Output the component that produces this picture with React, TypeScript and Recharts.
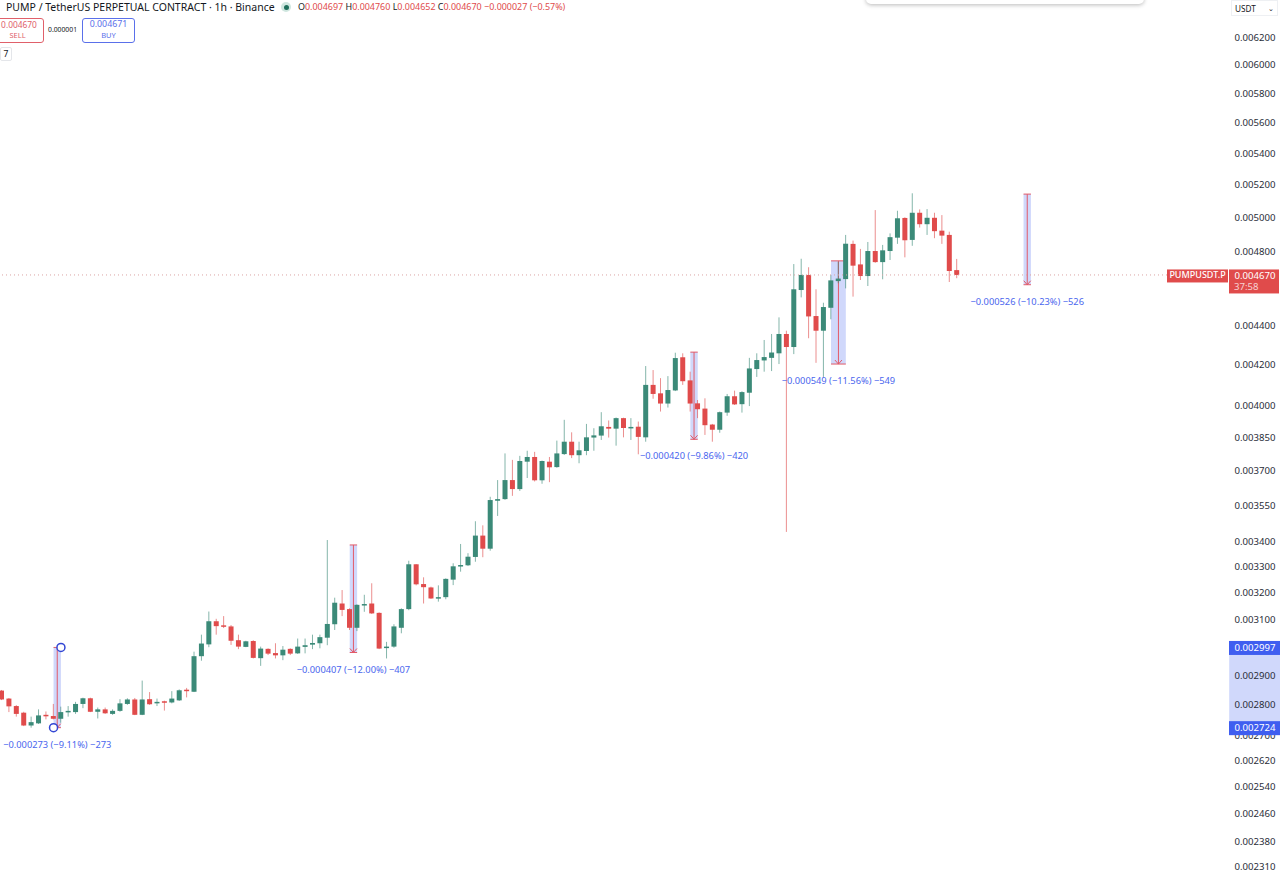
import { BarChart, Bar, XAxis, YAxis, ReferenceArea, ReferenceLine } from "recharts";

const opens = [
  0.002847, 0.00282, 0.002795, 0.002773, 0.002731, 0.002738, 0.002766, 0.002762, 0.002753, 0.002776,
  0.002775, 0.002802, 0.002821, 0.002776, 0.002784, 0.002769, 0.002779, 0.002802, 0.002817, 0.002766,
  0.002818, 0.002804, 0.002811, 0.002807, 0.002814, 0.00285, 0.002843, 0.002966, 0.003008, 0.003092,
  0.003077, 0.003073, 0.003023, 0.002999, 0.00302, 0.002959, 0.002992, 0.002977, 0.002969, 0.002992,
  0.002976, 0.002999, 0.003007, 0.003012, 0.003032, 0.003081, 0.003158, 0.003137, 0.003068, 0.003153,
  0.003158, 0.003123, 0.002998, 0.003, 0.003068, 0.003137, 0.003309, 0.003232, 0.003219, 0.003178,
  0.003182, 0.003249, 0.003301, 0.003305, 0.003338, 0.003424, 0.003371, 0.003569, 0.003576, 0.003658,
  0.003619, 0.003739, 0.00376, 0.003657, 0.003739, 0.003715, 0.003773, 0.003829, 0.003768, 0.003787,
  0.003848, 0.003857, 0.003897, 0.003889, 0.003938, 0.003894, 0.003898, 0.003849, 0.004097, 0.004056,
  0.004007, 0.00407, 0.004234, 0.004119, 0.004008, 0.003983, 0.003908, 0.003884, 0.003964, 0.004042,
  0.004004, 0.004059, 0.004175, 0.004218, 0.004231, 0.004254, 0.004353, 0.004286, 0.004587, 0.00467,
  0.004447, 0.00437, 0.004491, 0.004636, 0.004647, 0.004846, 0.004729, 0.004664, 0.004805, 0.004742,
  0.004805, 0.004882, 0.004998, 0.004869, 0.005029, 0.004961, 0.004999, 0.004923, 0.004898, 0.004697,
];
const highs = [
  0.002849, 0.002822, 0.002798, 0.002776, 0.00276, 0.002784, 0.002777, 0.002802, 0.002793, 0.002795,
  0.002809, 0.002823, 0.002823, 0.00279, 0.00279, 0.002784, 0.002818, 0.002821, 0.002822, 0.002881,
  0.002842, 0.00282, 0.002813, 0.002845, 0.002851, 0.002856, 0.002982, 0.003043, 0.003128, 0.003101,
  0.003111, 0.003078, 0.003043, 0.003021, 0.003023, 0.003, 0.002994, 0.003012, 0.003002, 0.002994,
  0.003029, 0.003029, 0.003043, 0.003043, 0.003406, 0.00318, 0.003209, 0.00314, 0.003155, 0.003191,
  0.003235, 0.003125, 0.003017, 0.003081, 0.00314, 0.003323, 0.00331, 0.003258, 0.003222, 0.003227,
  0.003254, 0.003313, 0.00339, 0.003353, 0.003483, 0.003466, 0.003586, 0.003658, 0.003776, 0.003747,
  0.003765, 0.003788, 0.003783, 0.003744, 0.00376, 0.003834, 0.00393, 0.003872, 0.003829, 0.003911,
  0.003891, 0.003966, 0.003927, 0.003941, 0.00394, 0.003938, 0.003922, 0.00419, 0.00417, 0.00413,
  0.00414, 0.004257, 0.004254, 0.004162, 0.004024, 0.004032, 0.003911, 0.003969, 0.004053, 0.004069,
  0.004066, 0.004231, 0.004254, 0.004322, 0.004353, 0.00444, 0.00437, 0.004731, 0.004761, 0.004713,
  0.004591, 0.004518, 0.00467, 0.004744, 0.004898, 0.004865, 0.004817, 0.004857, 0.005045, 0.00484,
  0.004907, 0.005041, 0.005002, 0.005147, 0.005049, 0.005051, 0.005029, 0.005015, 0.004917, 0.00476,
];
const lows = [
  0.002815, 0.002775, 0.00276, 0.002729, 0.002724, 0.002736, 0.002751, 0.002751, 0.00274, 0.00276,
  0.002769, 0.002788, 0.002775, 0.002754, 0.002769, 0.002766, 0.002776, 0.002799, 0.002765, 0.002765,
  0.002799, 0.002795, 0.00278, 0.002804, 0.002812, 0.002824, 0.002842, 0.00295, 0.002998, 0.003043,
  0.003067, 0.003006, 0.002991, 0.002998, 0.002958, 0.002932, 0.00297, 0.002958, 0.002952, 0.00297,
  0.002974, 0.002976, 0.002991, 0.002994, 0.003005, 0.00306, 0.003111, 0.00306, 0.003056, 0.003127,
  0.003119, 0.002991, 0.002958, 0.002996, 0.003048, 0.003133, 0.003227, 0.003158, 0.003175, 0.003165,
  0.003174, 0.003228, 0.00328, 0.003302, 0.003319, 0.003337, 0.003363, 0.003505, 0.003573, 0.00359,
  0.003611, 0.003667, 0.003652, 0.003642, 0.003649, 0.003712, 0.003769, 0.003755, 0.003732, 0.003768,
  0.003788, 0.003837, 0.003848, 0.003811, 0.003849, 0.003837, 0.003772, 0.003829, 0.00403, 0.003969,
  0.003988, 0.004067, 0.004097, 0.003969, 0.003938, 0.00386, 0.003829, 0.00387, 0.003949, 0.004,
  0.003964, 0.003995, 0.004136, 0.004162, 0.004165, 0.0042, 0.003439, 0.00425, 0.004547, 0.004331,
  0.004206, 0.004136, 0.00443, 0.004624, 0.004596, 0.004551, 0.004642, 0.004609, 0.004738, 0.004646,
  0.004754, 0.004846, 0.004769, 0.004835, 0.004941, 0.004898, 0.004879, 0.004846, 0.004631, 0.004652,
];
const closes = [
  0.002817, 0.002794, 0.002769, 0.002731, 0.002742, 0.002764, 0.002764, 0.002753, 0.002775, 0.002779,
  0.002802, 0.002821, 0.002776, 0.002784, 0.002771, 0.002779, 0.002804, 0.002817, 0.002766, 0.002817,
  0.002801, 0.002809, 0.002809, 0.00282, 0.002848, 0.002848, 0.002966, 0.003011, 0.003092, 0.003074,
  0.003074, 0.003021, 0.003, 0.003019, 0.00296, 0.002993, 0.002975, 0.002969, 0.002989, 0.002975,
  0.003, 0.003005, 0.003013, 0.003034, 0.003082, 0.003161, 0.003134, 0.003068, 0.003153, 0.003156,
  0.003121, 0.002993, 0.003, 0.003073, 0.003137, 0.003309, 0.003231, 0.00322, 0.003177, 0.003182,
  0.003252, 0.003301, 0.003306, 0.003339, 0.003424, 0.003371, 0.003572, 0.003576, 0.003658, 0.003619,
  0.003742, 0.00376, 0.003657, 0.003742, 0.003714, 0.003776, 0.003829, 0.003768, 0.00379, 0.003849,
  0.003858, 0.0039, 0.003889, 0.003938, 0.003892, 0.003897, 0.003851, 0.004097, 0.004053, 0.004007,
  0.004072, 0.00423, 0.004115, 0.004007, 0.00398, 0.003905, 0.003884, 0.003966, 0.004042, 0.004003,
  0.004062, 0.004178, 0.00422, 0.004235, 0.004258, 0.004353, 0.004286, 0.004591, 0.00467, 0.004445,
  0.00437, 0.004495, 0.00464, 0.00465, 0.004847, 0.004722, 0.004664, 0.004805, 0.004742, 0.004809,
  0.004885, 0.004996, 0.004867, 0.005029, 0.004961, 0.004999, 0.00492, 0.004894, 0.004692, 0.00467,
];

// empty slots keep the time axis running on to the right edge of the window
const slotCount = 173;
const axisBandSlot = 166;

const priceTicks = [
  0.0062, 0.006, 0.0058, 0.0056, 0.0054, 0.0052, 0.005, 0.0048, 0.0044, 0.0042, 0.004, 0.00385, 0.0037, 0.00355,
  0.0034, 0.0033, 0.0032, 0.0031, 0.0029, 0.0028, 0.0027, 0.00262, 0.00254, 0.00246, 0.00238, 0.00231,
];
const lastPrice = 0.00467;
const rangeHigh = 0.002997;
const rangeLow = 0.002724;
const axisTicks = [...priceTicks, lastPrice, rangeHigh, rangeLow];

const measureFrom = [7, 47, 93, 112, 138];
const measureTo = [8, 48, 94, 114, 139];
const measureTop = [0.002997, 0.003386, 0.00426, 0.004749, 0.005142];
const measureBottom = [0.002724, 0.002979, 0.00384, 0.0042, 0.004616];
const measureLabels = [
  "−0.000273 (−9.11%) −273",
  "−0.000407 (−12.00%) −407",
  "−0.000420 (−9.86%) −420",
  "−0.000549 (−11.56%) −549",
  "−0.000526 (−10.23%) −526",
];

const UP = "#3b8a78";
const DOWN = "#e04b4b";
const BLUE = "#3f5ef0";
const MEASURE_RED = "#e25a68";
const FONT = "'Noto Sans', sans-serif";
const SLOT_WIDTH = 1281 / slotCount;

const rows = Array.from({ length: slotCount }, (_, i) =>
  i < opens.length
    ? { slot: i, open: opens[i], close: closes[i], range: [lows[i], highs[i]] }
    : { slot: i },
);

function Candle(props: any) {
  const { x, y, width, height, payload } = props;
  if (payload.open === undefined) return null;
  const [low, high] = payload.range;
  const priceY = (v: number) => y + (height * (Math.log(high) - Math.log(v))) / (Math.log(high) - Math.log(low));
  const top = priceY(Math.max(payload.open, payload.close));
  const bottom = priceY(Math.min(payload.open, payload.close));
  const color = payload.close >= payload.open ? UP : DOWN;
  const cx = x + width / 2;
  return (
    <g>
      <line x1={cx} x2={cx} y1={y} y2={y + height} stroke={color} strokeWidth={1} opacity={0.62} />
      <rect x={x} y={top} width={width} height={Math.max(bottom - top, 1.5)} fill={color} />
    </g>
  );
}

// reference areas on a band axis cover whole slots, measures run centre to centre
function Measure(props: any) {
  const { y, height, index } = props;
  const x = props.x + SLOT_WIDTH / 2;
  const width = props.width - SLOT_WIDTH;
  const cx = x + width / 2;
  const bottom = y + height;
  return (
    <g>
      <rect x={x} y={y} width={width} height={height} fill="#3a5cf0" fillOpacity={0.24} />
      <line x1={x} x2={x + width} y1={y} y2={y} stroke={MEASURE_RED} />
      <line x1={x} x2={x + width} y1={bottom} y2={bottom} stroke={MEASURE_RED} />
      <line x1={cx} x2={cx} y1={y} y2={bottom} stroke={MEASURE_RED} />
      <path d={`M${cx - 3.5} ${bottom - 4}L${cx} ${bottom}L${cx + 3.5} ${bottom - 4}`} fill="none" stroke={MEASURE_RED} />
      {index === 0 && (
        <>
          <circle cx={x + width} cy={y} r={4} fill="#fff" stroke="#3347d4" strokeWidth={1.5} />
          <circle cx={x} cy={bottom} r={4} fill="#fff" stroke="#3347d4" strokeWidth={1.5} />
        </>
      )}
      <text x={cx} y={bottom + 17.5} textAnchor="middle" dominantBaseline="middle" fontSize={9.3} fontFamily={FONT} fill="#4a66ee">
        {measureLabels[index]}
      </text>
    </g>
  );
}

function AxisBand(props: any) {
  return <rect x={props.x + 2} y={props.y} width={props.width} height={props.height} fill="#3a5cf0" fillOpacity={0.24} />;
}

function PriceTick(props: any) {
  const { x, y, payload } = props;
  const value = payload.value;
  const text = value.toFixed(6);
  if (value === lastPrice) {
    return (
      <g fontFamily={FONT} fontSize={9.6} fill="#fff">
        <rect x={x - 112} y={y - 5.5} width={61} height={13} fill={DOWN} />
        <text x={x - 81.5} y={y + 1} textAnchor="middle" dominantBaseline="middle" fontSize={9} fontWeight={500}>PUMPUSDT.P</text>
        <rect x={x - 50} y={y - 5.5} width={50} height={24} fill={DOWN} />
        <text x={x - 3.5} y={y + 1} textAnchor="end" dominantBaseline="middle">{text}</text>
        <text x={x - 45} y={y + 12.5} dominantBaseline="middle" fillOpacity={0.75}>37:58</text>
      </g>
    );
  }
  if (value === rangeHigh || value === rangeLow) {
    return (
      <g fontFamily={FONT} fontSize={9.6} fill="#fff">
        <rect x={x - 50} y={y - 6.5} width={51} height={14} fill={BLUE} />
        <text x={x - 3.5} y={y + 1} textAnchor="end" dominantBaseline="middle">{text}</text>
      </g>
    );
  }
  return (
    <text x={x - 3.5} y={y + 1} textAnchor="end" dominantBaseline="middle" fontFamily={FONT} fontSize={9.6} fill="#2a2e39">
      {text}
    </text>
  );
}

const abs = (left: number, top: number, extra: any = {}): any => ({
  position: "absolute",
  left,
  top,
  whiteSpace: "nowrap",
  ...extra,
});

function OrderBox({ left, color, price, side, priceSize, nudge }: { left: number; color: string; price: string; side: string; priceSize: number; nudge: number }) {
  return (
    <div
      style={abs(left, 18, {
        width: 51,
        height: 23,
        border: `1px solid ${color}`,
        borderRadius: 3,
        color,
        textAlign: "center",
        lineHeight: "11px",
        boxSizing: "content-box",
      })}
    >
      <div style={{ fontSize: priceSize, marginLeft: nudge }}>{price}</div>
      <div style={{ fontSize: 7.5 }}>{side}</div>
    </div>
  );
}

function Header() {
  const red = { color: "#e04b4b" };
  return (
    <div style={{ fontFamily: FONT, color: "#131722" }}>
      <div style={abs(6, 0, { fontSize: 10.5, lineHeight: "14px" })}>PUMP / TetherUS PERPETUAL CONTRACT · 1h · Binance</div>
      <div style={abs(281, 2, { width: 10, height: 10, borderRadius: 5, background: "#cfe6df" })} />
      <div style={abs(283.5, 4.5, { width: 5, height: 5, borderRadius: 3, background: "#1f6f5c" })} />
      <div style={abs(298, 0, { fontSize: 8.95, lineHeight: "14px" })}>
        O<span style={red}>0.004697</span> H<span style={red}>0.004760</span> L<span style={red}>0.004652</span> C
        <span style={red}>0.004670</span> <span style={red}>−0.000027 (−0.57%)</span>
      </div>
      <OrderBox left={-9} color="#e0606a" price="0.004670" side="SELL" priceSize={8.4} nudge={3} />
      <div style={abs(48, 25, { fontSize: 6.8, lineHeight: "9px" })}>0.000001</div>
      <OrderBox left={82} color="#5a70ea" price="0.004671" side="BUY" priceSize={8.8} nudge={0} />
      <div
        style={abs(0, 47, {
          width: 10,
          height: 12,
          border: "1px solid #e4e6ea",
          borderRadius: 2,
          fontSize: 8.5,
          lineHeight: "12px",
          textAlign: "center",
        })}
      >
        7
      </div>
      <div
        style={abs(866, -6, {
          width: 278,
          height: 10,
          background: "#fff",
          borderRadius: 5,
          boxShadow: "0 1px 4px rgba(0,0,0,0.28)",
        })}
      />
      <div
        style={abs(1231, 0, {
          width: 47,
          height: 16,
          border: "1px solid #eef0f3",
          fontSize: 8.2,
          lineHeight: "15px",
          paddingLeft: 3,
          boxSizing: "border-box",
        })}
      >
        USDT
        <span style={{ position: "absolute", right: 3, top: 0, fontSize: 7 }}>⌄</span>
      </div>
    </div>
  );
}

export default function App() {
  return (
    <div style={{ position: "absolute", left: 0, top: 0, width: 1280, height: 883, background: "#fff", overflow: "hidden" }}>
      <BarChart width={1280} height={883} data={rows} margin={{ top: 0, right: 1, bottom: 0, left: -2 }}>
        <XAxis dataKey="slot" hide />
        <YAxis
          orientation="right"
          mirror
          scale="log"
          type="number"
          domain={[0.002264, 0.006479]}
          allowDataOverflow
          ticks={axisTicks}
          interval={0}
          tickSize={0}
          tickMargin={0}
          axisLine={false}
          tickLine={false}
          tick={PriceTick}
        />
        <ReferenceArea x1={axisBandSlot} y1={rangeLow} y2={rangeHigh} shape={AxisBand} ifOverflow="visible" />
        <ReferenceLine y={lastPrice} stroke="#dba3a3" strokeDasharray="1 3" />
        <Bar dataKey="range" barSize={5} shape={Candle} isAnimationActive={false} />
        {measureLabels.map((label, i) => (
          <ReferenceArea
            key={label}
            x1={measureFrom[i]}
            x2={measureTo[i]}
            y1={measureBottom[i]}
            y2={measureTop[i]}
            shape={(p: any) => <Measure {...p} index={i} />}
          />
        ))}
      </BarChart>
      <Header />
    </div>
  );
}
